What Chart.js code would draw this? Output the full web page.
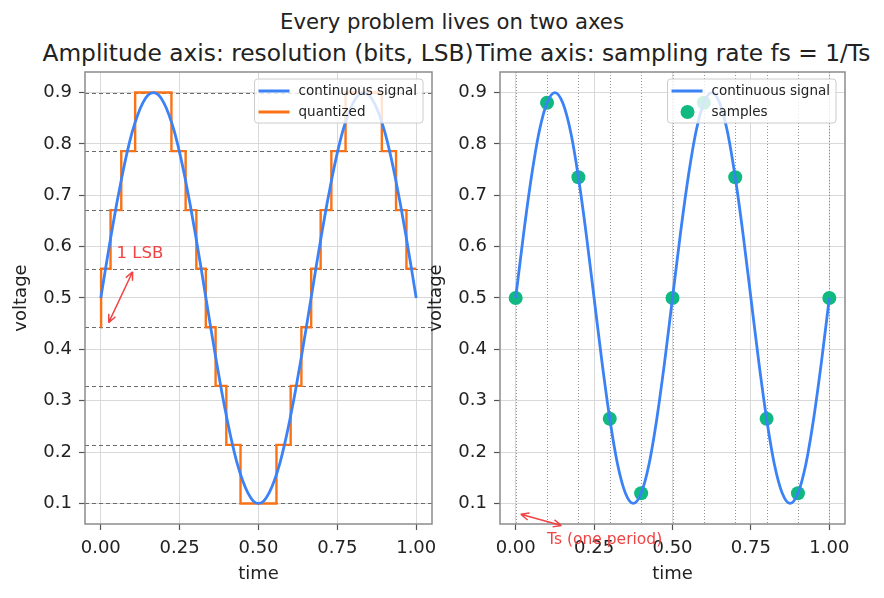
<!DOCTYPE html>
<html>
<head>
<meta charset="utf-8">
<script src="https://cdn.jsdelivr.net/npm/chart.js@4.4.1/dist/chart.umd.min.js"></script>
<style>
body { margin: 0; background: #fff; width: 884px; height: 598px; overflow: hidden; position: relative; font-family: "DejaVu Sans", sans-serif; color: #222; }
.t { position: absolute; white-space: nowrap; line-height: 1; transform: translateX(-50%); }
#wl { position: absolute; left: 0; top: 0; }
#wr { position: absolute; left: 415px; top: 0; }
</style>
</head>
<body>
<div class="t" style="left:452px;top:11px;font-size:21.2px">Every problem lives on two axes</div>
<div class="t" style="left:258px;top:41px;font-size:23.3px">Amplitude axis: resolution (bits, LSB)</div>
<div class="t" style="left:673px;top:41px;font-size:23.3px">Time axis: sampling rate fs = 1/Ts</div>
<div id="wl"><canvas id="cl" width="442" height="598"></canvas></div>
<div id="wr"><canvas id="cr" width="469" height="598"></canvas></div>
<script>
// left panel: continuous signal + 3-bit quantized version
const leftTime = [0, 0.0167, 0.0333, 0.05, 0.0667, 0.0833, 0.1, 0.1167, 0.1333, 0.15, 0.1667, 0.1833, 0.2, 0.2167, 0.2333, 0.25, 0.2667, 0.2833, 0.3, 0.3167,
  0.3333, 0.35, 0.3667, 0.3833, 0.4, 0.4167, 0.4333, 0.45, 0.4667, 0.4833, 0.5, 0.5167, 0.5333, 0.55, 0.5667, 0.5833, 0.6, 0.6167, 0.6333, 0.65,
  0.6667, 0.6833, 0.7, 0.7167, 0.7333, 0.75, 0.7667, 0.7833, 0.8, 0.8167, 0.8333, 0.85, 0.8667, 0.8833, 0.9, 0.9167, 0.9333, 0.95, 0.9667, 0.9833, 1.0];
const leftSignal = [0.5, 0.563, 0.624, 0.682, 0.735, 0.783, 0.824, 0.856, 0.880, 0.895, 0.9, 0.895, 0.880, 0.856, 0.824, 0.783, 0.735, 0.682, 0.624, 0.563,
  0.5, 0.437, 0.376, 0.318, 0.265, 0.217, 0.176, 0.144, 0.120, 0.105, 0.1, 0.105, 0.120, 0.144, 0.176, 0.217, 0.265, 0.318, 0.376, 0.437,
  0.5, 0.563, 0.624, 0.682, 0.735, 0.783, 0.824, 0.856, 0.880, 0.895, 0.9, 0.895, 0.880, 0.856, 0.824, 0.783, 0.735, 0.682, 0.624, 0.563, 0.5];
const quantTime = [0, 0.001, 0.031, 0.065, 0.109, 0.224, 0.269, 0.303, 0.333, 0.364, 0.398, 0.443,
  0.557, 0.602, 0.636, 0.667, 0.697, 0.731, 0.776, 0.891, 0.936, 0.969, 1.0];
const quantLevel = [0.443, 0.557, 0.671, 0.786, 0.9, 0.786, 0.671, 0.557, 0.443, 0.329, 0.214, 0.1,
  0.214, 0.329, 0.443, 0.557, 0.671, 0.786, 0.9, 0.786, 0.671, 0.557, 0.557];
const levels = [0.1, 0.214, 0.329, 0.443, 0.557, 0.671, 0.786, 0.9];

// right panel: continuous signal + samples
const rightTime = [0, 0.025, 0.05, 0.075, 0.1, 0.125, 0.15, 0.175, 0.2, 0.225, 0.25, 0.275, 0.3, 0.325, 0.35, 0.375, 0.4, 0.425, 0.45, 0.475,
  0.5, 0.525, 0.55, 0.575, 0.6, 0.625, 0.65, 0.675, 0.7, 0.725, 0.75, 0.775, 0.8, 0.825, 0.85, 0.875, 0.9, 0.925, 0.95, 0.975, 1.0];
const rightSignal = [0.5, 0.624, 0.735, 0.824, 0.880, 0.9, 0.880, 0.824, 0.735, 0.624, 0.5, 0.376, 0.265, 0.176, 0.120, 0.1, 0.120, 0.176, 0.265, 0.376,
  0.5, 0.624, 0.735, 0.824, 0.880, 0.9, 0.880, 0.824, 0.735, 0.624, 0.5, 0.376, 0.265, 0.176, 0.120, 0.1, 0.120, 0.176, 0.265, 0.376, 0.5];
const sampleTime = [0, 0.1, 0.2, 0.3, 0.4, 0.5, 0.6, 0.7, 0.8, 0.9, 1.0];
const sampleValue = [0.5, 0.88, 0.735, 0.265, 0.12, 0.5, 0.88, 0.735, 0.265, 0.12, 0.5];

const xTicks = [0, 0.25, 0.5, 0.75, 1.0];
const yTicks = [0.1, 0.2, 0.3, 0.4, 0.5, 0.6, 0.7, 0.8, 0.9];

const BLUE = '#3b82f6', ORANGE = '#f97316', GREEN = '#10b981', RED = '#ef4444';
const INK = '#222';
const FONT = '"DejaVu Sans", sans-serif';

Chart.defaults.font.family = FONT;
Chart.defaults.color = INK;

const pts = (xs, ys) => xs.map((x, i) => ({ x: x, y: ys[i] }));

function scales() {
  const grid = { color: '#d9d9d9', lineWidth: 1, tickColor: '#555', tickLength: 6, tickWidth: 1.2 };
  return {
    x: {
      type: 'linear', min: -0.05, max: 1.05,
      afterBuildTicks: s => { s.ticks = xTicks.map(v => ({ value: v })); },
      afterFit: s => { s.height = 74; s.paddingLeft = 0; s.paddingRight = 0; },
      grid: grid, border: { display: false },
      ticks: { font: { size: 18 }, padding: 8, maxRotation: 0, callback: v => v.toFixed(2) },
      title: { display: true, text: 'time', font: { size: 18 }, padding: { top: 0, bottom: 13 } }
    },
    y: {
      type: 'linear', min: 0.06, max: 0.94,
      afterBuildTicks: s => { s.ticks = yTicks.map(v => ({ value: v })); },
      afterFit: s => { s.width = 85; s.paddingTop = 0; s.paddingBottom = 0; },
      grid: grid, border: { display: false },
      ticks: { font: { size: 18 }, padding: 7, callback: v => v.toFixed(1) },
      title: { display: true, text: 'voltage', font: { size: 18 }, padding: { top: 11, bottom: 0 } }
    }
  };
}

const frame = {
  id: 'frame',
  afterDatasetsDraw(chart) {
    const { ctx, chartArea: a } = chart;
    ctx.save();
    ctx.strokeStyle = '#8c8c8c';
    ctx.lineWidth = 1.5;
    ctx.strokeRect(a.left, a.top, a.right - a.left, a.bottom - a.top);
    ctx.restore();
  }
};

// legend drawn inside the plot, upper right, semi-transparent box
const boxLegend = {
  id: 'boxLegend',
  afterDraw(chart) {
    const { ctx, chartArea: a } = chart;
    const items = chart.data.datasets;
    ctx.save();
    ctx.font = '13.5px ' + FONT;
    const tw = Math.max(...items.map(d => ctx.measureText(d.label).width));
    const w = 4 + 31 + 9 + tw + 6, h = 44;
    const x0 = a.right - 9 - w, y0 = a.top + 7;
    ctx.beginPath();
    ctx.roundRect(x0, y0, w, h, 3);
    ctx.fillStyle = 'rgba(255,255,255,0.8)';
    ctx.fill();
    ctx.strokeStyle = '#cccccc';
    ctx.lineWidth = 1;
    ctx.stroke();
    items.forEach((d, i) => {
      const cy = y0 + 12 + i * 21;
      if (d.showLine === false) {
        ctx.beginPath();
        ctx.arc(x0 + 20, cy, 7, 0, Math.PI * 2);
        ctx.fillStyle = d.backgroundColor;
        ctx.fill();
      } else {
        ctx.beginPath();
        ctx.moveTo(x0 + 4, cy);
        ctx.lineTo(x0 + 35, cy);
        ctx.strokeStyle = d.borderColor;
        ctx.lineWidth = 3;
        ctx.stroke();
      }
      ctx.fillStyle = INK;
      ctx.textBaseline = 'middle';
      ctx.textAlign = 'left';
      ctx.fillText(d.label, x0 + 44, cy);
    });
    ctx.restore();
  }
};

function arrow(ctx, x1, y1, x2, y2) {
  ctx.beginPath();
  ctx.moveTo(x1, y1);
  ctx.lineTo(x2, y2);
  const ends = [[x1, y1, x2, y2], [x2, y2, x1, y1]];
  ends.forEach(([ax, ay, bx, by]) => {
    const ang = Math.atan2(by - ay, bx - ax);
    for (const s of [-1, 1]) {
      ctx.moveTo(ax, ay);
      ctx.lineTo(ax + 9 * Math.cos(ang + s * 0.42), ay + 9 * Math.sin(ang + s * 0.42));
    }
  });
  ctx.stroke();
}

// annotation anchors in data units
const lsbArrow = { from: [0.025, 0.452], to: [0.101, 0.551], text: [0.05, 0.587] };
const tsArrow = { from: [0.016, 0.079], to: [0.146, 0.057], text: [0.1, 0.028] };

function annotate(spec, label) {
  return {
    id: 'annot',
    afterDraw(chart) {
      const { ctx, scales: { x, y } } = chart;
      ctx.save();
      ctx.strokeStyle = RED;
      ctx.fillStyle = RED;
      ctx.lineWidth = 1.5;
      arrow(ctx, x.getPixelForValue(spec.from[0]), y.getPixelForValue(spec.from[1]),
        x.getPixelForValue(spec.to[0]), y.getPixelForValue(spec.to[1]));
      ctx.font = label.size + 'px ' + FONT;
      ctx.textBaseline = 'middle';
      ctx.textAlign = 'left';
      ctx.fillText(label.text, x.getPixelForValue(spec.text[0]), y.getPixelForValue(spec.text[1]));
      ctx.restore();
    }
  };
}

const levelLines = {
  id: 'levelLines',
  beforeDatasetsDraw(chart) {
    const { ctx, chartArea: a, scales: { y } } = chart;
    ctx.save();
    ctx.strokeStyle = '#6b6b6b';
    ctx.lineWidth = 1;
    ctx.setLineDash([4, 3]);
    levels.forEach(v => {
      const py = Math.round(y.getPixelForValue(v)) + 0.5;
      ctx.beginPath();
      ctx.moveTo(a.left, py);
      ctx.lineTo(a.right, py);
      ctx.stroke();
    });
    ctx.restore();
  }
};

const sampleLines = {
  id: 'sampleLines',
  beforeDatasetsDraw(chart) {
    const { ctx, chartArea: a, scales: { x } } = chart;
    ctx.save();
    ctx.strokeStyle = '#777';
    ctx.lineWidth = 0.8;
    ctx.setLineDash([1, 2]);
    sampleTime.forEach(v => {
      const px = Math.round(x.getPixelForValue(v)) + 0.5;
      ctx.beginPath();
      ctx.moveTo(px, a.top);
      ctx.lineTo(px, a.bottom);
      ctx.stroke();
    });
    ctx.restore();
  }
};

const common = {
  responsive: false,
  animation: false,
  layout: { padding: { top: 72, left: 0, bottom: 0, right: 10 } },
  plugins: { legend: { display: false }, tooltip: { enabled: false }, title: { display: false } },
  scales: scales()
};

new Chart(document.getElementById('cl'), {
  type: 'line',
  data: {
    datasets: [
      { label: 'continuous signal', data: pts(leftTime, leftSignal), borderColor: BLUE, borderWidth: 2.8,
        pointRadius: 0, cubicInterpolationMode: 'monotone' },
      { label: 'quantized', data: pts(quantTime, quantLevel), borderColor: ORANGE, borderWidth: 2.4,
        pointRadius: 0, stepped: true }
    ]
  },
  options: common,
  plugins: [levelLines, frame, boxLegend, annotate(lsbArrow, { text: '1 LSB', size: 16.5 })]
});

new Chart(document.getElementById('cr'), {
  type: 'line',
  data: {
    datasets: [
      { label: 'continuous signal', data: pts(rightTime, rightSignal), borderColor: BLUE, borderWidth: 2.8,
        pointRadius: 0, cubicInterpolationMode: 'monotone' },
      { label: 'samples', data: pts(sampleTime, sampleValue), showLine: false, backgroundColor: GREEN,
        borderColor: GREEN, pointRadius: 7, pointBorderWidth: 0 }
    ]
  },
  options: Object.assign({}, common, {
    layout: { padding: { top: 72, left: 0, bottom: 0, right: 39 } },
    scales: scales()
  }),
  plugins: [sampleLines, frame, boxLegend, annotate(tsArrow, { text: 'Ts (one period)', size: 15.5 })]
});
</script>
</body>
</html>
